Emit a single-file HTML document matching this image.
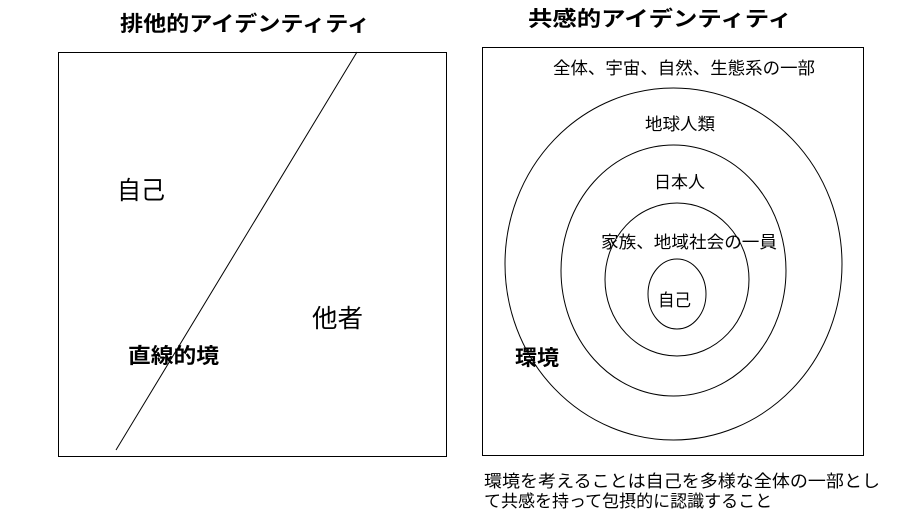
<!DOCTYPE html>
<html><head><meta charset="utf-8"><style>
body{margin:0;background:#fff;}
svg text{font-family:"Liberation Sans","Noto Sans CJK JP",sans-serif;fill:#000;}
</style></head><body>
<svg width="907" height="526" viewBox="0 0 907 526" xmlns="http://www.w3.org/2000/svg">
<rect width="907" height="526" fill="#fff"/>
<text x="120" y="31" font-size="21" font-weight="bold" textLength="250" lengthAdjust="spacingAndGlyphs">排他的アイデンティティ</text>
<text x="528" y="26" font-size="21" font-weight="bold" textLength="264" lengthAdjust="spacingAndGlyphs">共感的アイデンティティ</text>
<rect x="58.5" y="52.5" width="388" height="404" fill="none" stroke="#000"/>
<line x1="357" y1="52" x2="116" y2="450" stroke="#000"/>
<text x="117" y="199" font-size="25" textLength="48" lengthAdjust="spacingAndGlyphs">自己</text>
<text x="312" y="327" font-size="25" textLength="51" lengthAdjust="spacingAndGlyphs">他者</text>
<text x="128" y="363" font-size="21" font-weight="bold" textLength="91" lengthAdjust="spacingAndGlyphs">直線的境</text>
<rect x="482.5" y="47.5" width="381" height="408" fill="none" stroke="#000"/>
<text x="553" y="74" font-size="17" textLength="262" lengthAdjust="spacingAndGlyphs">全体、宇宙、自然、生態系の一部</text>
<ellipse cx="673.5" cy="264" rx="168.5" ry="176" fill="none" stroke="#000"/>
<ellipse cx="673.5" cy="270.5" rx="112.5" ry="125.5" fill="none" stroke="#000"/>
<ellipse cx="677" cy="279.5" rx="72" ry="76.5" fill="none" stroke="#000"/>
<ellipse cx="677" cy="294" rx="29" ry="35" fill="none" stroke="#000"/>
<text x="645" y="130" font-size="17" textLength="70" lengthAdjust="spacingAndGlyphs">地球人類</text>
<text x="654" y="188" font-size="17" textLength="51" lengthAdjust="spacingAndGlyphs">日本人</text>
<text x="601" y="248" font-size="17" textLength="176" lengthAdjust="spacingAndGlyphs">家族、地域社会の一員</text>
<text x="658" y="306" font-size="17" textLength="33" lengthAdjust="spacingAndGlyphs">自己</text>
<text x="515" y="365" font-size="21" font-weight="bold" textLength="44" lengthAdjust="spacingAndGlyphs">環境</text>
<text x="484" y="487" font-size="17" textLength="396" lengthAdjust="spacingAndGlyphs">環境を考えることは自己を多様な全体の一部とし</text>
<text x="484" y="507" font-size="17">て共感を持って包摂的に認識すること</text>
</svg>
</body></html>
